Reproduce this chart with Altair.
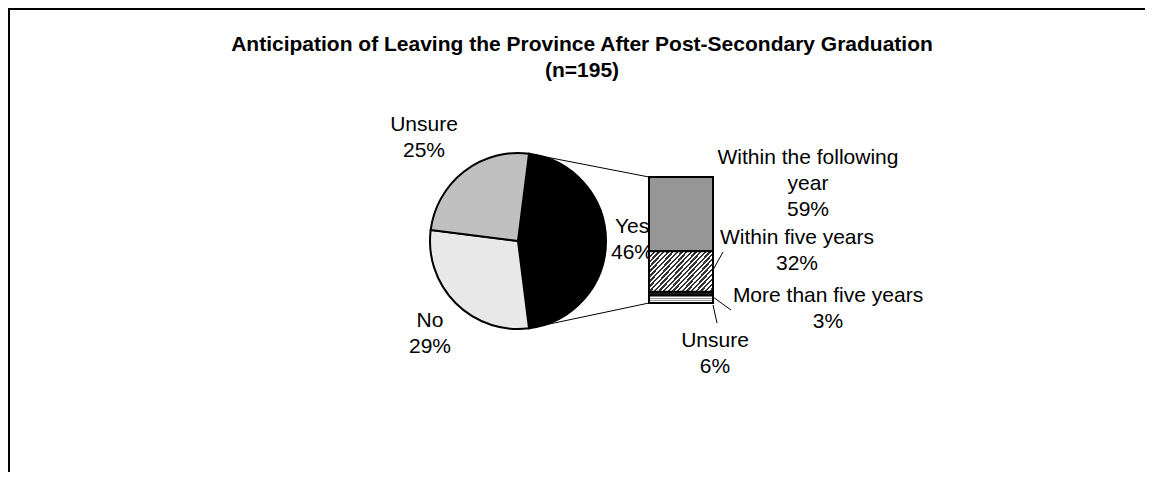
import math
import altair as alt
import pandas as pd

# ---------------- data ----------------
TITLE_LINES = ["Anticipation of Leaving the Province After Post-Secondary Graduation", "(n=195)"]

pie_cats = ["Yes", "No", "Unsure"]
pie_vals = [46, 29, 25]

bar_cats = ["Within the following year", "Within five years", "More than five years", "Unsure"]
bar_vals = [59, 32, 3, 6]
bar_label_lines = [["Within the following", "year"], ["Within five years"], ["More than five years"], ["Unsure"]]

# ---------------- styles / layout (plot coords, origin at screen 12,12) ----------------
FONT = "Liberation Sans"
FS = 21
LH = 26
pie_colors = ["#000000", "#e8e8e8", "#c0c0c0"]
bar_colors = ["#969696", "#8a8a8a", "#222222", "#f6f6f6"]

PIE_CX, PIE_CY, PIE_R = 506, 229, 88
BAR_X0, BAR_X1, BAR_TOP, BAR_BOT = 637, 701, 165, 291
W, H = 1129, 456

pie_label_pos = [(620, 215), (418, 309), (412, 113)]           # Yes, No, Unsure
bar_label_pos = [(796, 146), (785, 226), (816, 284), (703, 329)]
title_pos = (570, 33)
leaders = [((701, 258), (711, 240)), ((701, 285), (719, 298)), ((701, 293), (705, 311))]

# ---------------- tables ----------------
pie_df = pd.DataFrame({"cat": pie_cats, "val": pie_vals, "idx": list(range(len(pie_cats)))})
bar_df = pd.DataFrame({"cat": [f"b_{c}" for c in bar_cats], "val": bar_vals,
                       "idx": list(range(len(bar_cats)))[::-1]})

rows = []
for (c, v), (x, y) in zip(zip(pie_cats, pie_vals), pie_label_pos):
    for i, t in enumerate([c, f"{v}%"]):
        rows.append({"t": t, "x": x, "y": y + i * LH})
for lines, v, (x, y) in zip(bar_label_lines, bar_vals, bar_label_pos):
    for i, t in enumerate(lines + [f"{v}%"]):
        rows.append({"t": t, "x": x, "y": y + i * LH})
label_df = pd.DataFrame(rows)

title_df = pd.DataFrame({"t": TITLE_LINES, "x": [title_pos[0]] * 2,
                         "y": [title_pos[1] + i * LH for i in range(2)]})

a0 = math.pi / 2 - math.pi * pie_vals[0] / 100.0
a1 = a0 + 2 * math.pi * pie_vals[0] / 100.0
conn_df = pd.DataFrame({
    "x": [PIE_CX + PIE_R * math.sin(a0), PIE_CX + PIE_R * math.sin(a1)],
    "y": [PIE_CY - PIE_R * math.cos(a0), PIE_CY - PIE_R * math.cos(a1)],
    "x2": [BAR_X0, BAR_X0],
    "y2": [BAR_TOP, BAR_BOT],
})
lead_df = pd.DataFrame({"x": [a[0] for a, b in leaders], "y": [a[1] for a, b in leaders],
                        "x2": [b[0] for a, b in leaders], "y2": [b[1] for a, b in leaders]})

# ---------------- gradients (pattern approximations) ----------------
hatch_stops = []
n = 22
for k in range(n):
    a, b, c = k / n, (k + 0.5) / n, (k + 1) / n
    hatch_stops += [{"offset": a, "color": "#333333"}, {"offset": b, "color": "#333333"},
                    {"offset": b, "color": "#ffffff"}, {"offset": c, "color": "#ffffff"}]
hatch = {"gradient": "linear", "x1": 0, "y1": 0, "x2": 1.18, "y2": 0.7, "stops": hatch_stops}

stripe = {"gradient": "linear", "x1": 0, "y1": 0, "x2": 0, "y2": 1, "stops": [
    {"offset": 0, "color": "#ffffff"}, {"offset": 0.28, "color": "#ffffff"},
    {"offset": 0.28, "color": "#9a9a9a"}, {"offset": 0.45, "color": "#9a9a9a"},
    {"offset": 0.45, "color": "#ffffff"}, {"offset": 0.62, "color": "#ffffff"},
    {"offset": 0.62, "color": "#9a9a9a"}, {"offset": 0.79, "color": "#9a9a9a"},
    {"offset": 0.79, "color": "#ffffff"}, {"offset": 1, "color": "#ffffff"}]}

# ---------------- layers ----------------
frame_left = alt.Chart(pd.DataFrame({"k": [0]})).mark_rule(color="black", strokeWidth=2).encode(
    x=alt.value(-3), y=alt.value(-4), y2=alt.value(H + 4))
frame_top = alt.Chart(pd.DataFrame({"k": [0]})).mark_rule(color="black", strokeWidth=2).encode(
    x=alt.value(-4), x2=alt.value(W + 4), y=alt.value(-3))

title = alt.Chart(title_df).mark_text(font=FONT, fontSize=FS, fontWeight="bold", align="center",
                                      baseline="middle", color="black").encode(
    x=alt.X("x:Q", scale=None, axis=None), y=alt.Y("y:Q", scale=None, axis=None), text="t:N")

labels = alt.Chart(label_df).mark_text(font=FONT, fontSize=FS, align="center",
                                       baseline="middle", color="black").encode(
    x=alt.X("x:Q", scale=None, axis=None), y=alt.Y("y:Q", scale=None, axis=None), text="t:N")

pie = alt.Chart(pie_df).mark_arc(radius=PIE_R, stroke="black", strokeWidth=2).encode(
    theta=alt.Theta("val:Q", stack=True, scale=alt.Scale(domain=[0, 100], range=[a0, a0 + 2 * math.pi])),
    color=alt.Color("cat:N", scale=alt.Scale(domain=pie_cats, range=pie_colors), legend=None),
    order=alt.Order("idx:Q"),
    x=alt.value(PIE_CX), y=alt.value(PIE_CY))

conn = alt.Chart(conn_df).mark_rule(color="black", strokeWidth=1).encode(
    x=alt.X("x:Q", scale=None, axis=None), y=alt.Y("y:Q", scale=None, axis=None),
    x2="x2:Q", y2="y2:Q")

yscale = alt.Scale(domain=[0, 100], range=[BAR_BOT, BAR_TOP])
bar_base = alt.Chart(bar_df).transform_stack(
    stack="val", groupby=[], as_=["y0", "y1"], sort=[alt.SortField("idx", order="ascending")])

bar = bar_base.mark_bar(stroke="black", strokeWidth=2).encode(
    x=alt.value(BAR_X0), x2=alt.value(BAR_X1),
    y=alt.Y("y0:Q", scale=yscale, axis=None), y2="y1:Q",
    color=alt.Color("cat:N", scale=alt.Scale(domain=[f"b_{c}" for c in bar_cats], range=bar_colors),
                    legend=None))

hatch_layer = bar_base.transform_filter(alt.datum.cat == f"b_{bar_cats[1]}").mark_bar(
    fill=hatch, stroke="black", strokeWidth=2).encode(
    x=alt.value(BAR_X0), x2=alt.value(BAR_X1),
    y=alt.Y("y0:Q", scale=yscale, axis=None), y2="y1:Q")

stripe_layer = bar_base.transform_filter(alt.datum.cat == f"b_{bar_cats[3]}").mark_bar(
    fill=stripe, stroke="black", strokeWidth=2).encode(
    x=alt.value(BAR_X0), x2=alt.value(BAR_X1),
    y=alt.Y("y0:Q", scale=yscale, axis=None), y2="y1:Q")

lead = alt.Chart(lead_df).mark_rule(color="black", strokeWidth=1).encode(
    x=alt.X("x:Q", scale=None, axis=None), y=alt.Y("y:Q", scale=None, axis=None),
    x2="x2:Q", y2="y2:Q")

chart = alt.layer(frame_left, frame_top, title, labels, pie, conn, bar, hatch_layer, stripe_layer, lead
                  ).resolve_scale(color="independent", x="independent", y="independent").properties(
    width=W, height=H, padding={"left": 4, "right": 4, "top": 4, "bottom": 4}, autosize="none",
    background="white").configure_view(stroke=None)

chart.save("out.html", embed_options={"renderer": "svg", "actions": False})
